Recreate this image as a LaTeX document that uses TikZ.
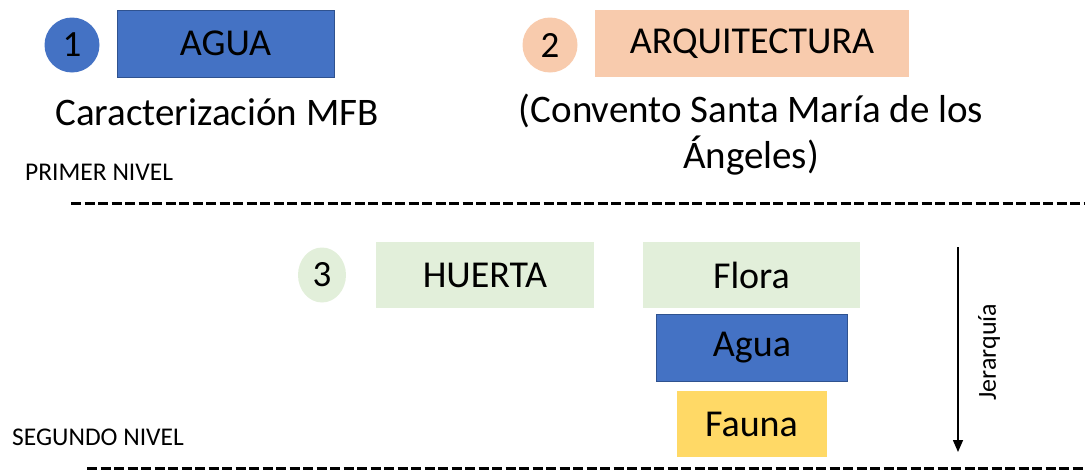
\documentclass[tikz,border=0pt]{standalone}
\usepackage{fontspec}
\setmainfont{Carlito}
\usetikzlibrary{shapes.geometric,arrows.meta}
\definecolor{azul}{HTML}{4472C4}
\definecolor{azulborde}{HTML}{2F528F}
\definecolor{salmon}{HTML}{F8CBAD}
\definecolor{verdeclaro}{HTML}{E2EFDA}
\definecolor{amarillo}{HTML}{FFD966}
\begin{document}
\begin{tikzpicture}[x=1pt, y=-1pt,
  caja/.style={rectangle, inner sep=0pt, font=\fontsize{38}{46}\selectfont},
  numdot/.style={ellipse, inner sep=0pt, minimum width=55pt, minimum height=55pt, font=\fontsize{37}{44}\selectfont},
  nivel/.style={anchor=west, inner sep=0pt, font=\fontsize{25.5}{30}\selectfont},
  corte/.style={line width=3pt, dash pattern=on 10pt off 3.5pt}]
\useasboundingbox (0,0) rectangle (1090,474);
\node[numdot, fill=azul] (num1) at (72,45){1};
\node[caja, fill=azul, draw=azulborde, line width=1pt, minimum width=217pt, minimum height=67pt] (agua) at (225.5,43.5){AGUA};
\node[caja, font=\fontsize{39}{46}\selectfont] (mfb) at (217,112){Caracterización MFB};
\node[numdot, fill=salmon] (num2) at (550,45){2};
\node[caja, fill=salmon, minimum width=314pt, minimum height=67pt] (arq) at (752,43.5){ARQUITECTURA};
\node[caja, align=center, font=\fontsize{39}{46}\selectfont] (convento) at (751,135){(Convento Santa María de los\\Ángeles)};
\node[nivel] (primer) at (25,172){PRIMER NIVEL};
\coordinate (c1a) at (71,203);
\coordinate (c1b) at (1084,203);
\draw[corte](c1a) -- (c1b);
\node[numdot, fill=verdeclaro, minimum width=48pt] (num3) at (322,275){3};
\node[caja, fill=verdeclaro, minimum width=218pt, minimum height=66pt] (huerta) at (485,275){HUERTA};
\node[caja, fill=verdeclaro, minimum width=217pt, minimum height=66pt] (flora) at (751.5,275){Flora};
\node[caja, fill=azul, draw=azulborde, line width=1pt, minimum width=191pt, minimum height=67pt] (agua2) at (752,347.5){Agua};
\node[caja, fill=amarillo, minimum width=150pt, minimum height=66pt] (fauna) at (751.5,424){Fauna};
\coordinate (j0) at (958,247);
\coordinate (j1) at (958,452);
\draw[line width=1.5pt, -{Triangle[width=10pt,length=12pt]}](j0) -- (j1);
\node[rotate=90, inner sep=0pt, font=\fontsize{26}{30}\selectfont] (jer) at (989,352){Jerarquía};
\node[nivel] (segundo) at (12,437){SEGUNDO NIVEL};
\coordinate (c2a) at (87,468);
\coordinate (c2b) at (1084,468);
\draw[corte](c2a) -- (c2b);
\end{tikzpicture}
\end{document}
